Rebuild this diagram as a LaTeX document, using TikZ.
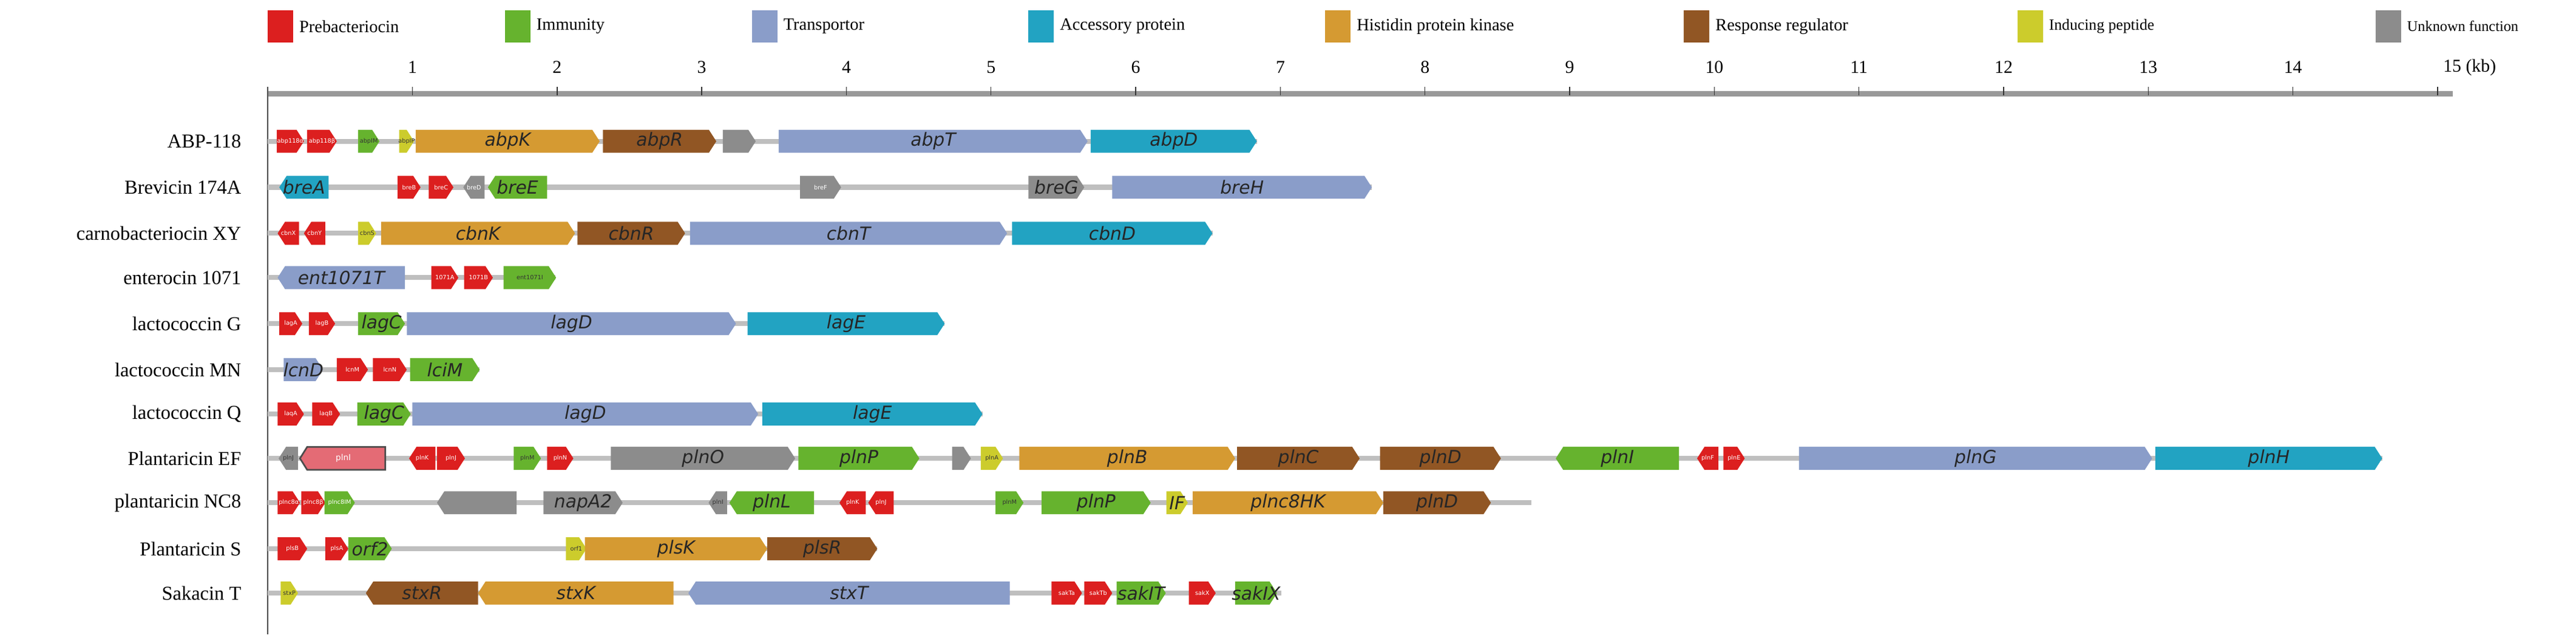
\documentclass[tikz,border=0pt]{standalone}
\usepackage{fontspec}
\setmainfont{Liberation Serif}
\newfontfamily\gfont{DejaVu Sans}
\definecolor{cPre}{HTML}{DC1F1F}
\definecolor{cImm}{HTML}{66B32E}
\definecolor{cTra}{HTML}{8A9DC9}
\definecolor{cAcc}{HTML}{22A3C2}
\definecolor{cHis}{HTML}{D59A32}
\definecolor{cRes}{HTML}{915624}
\definecolor{cInd}{HTML}{CCCC2C}
\definecolor{cUnk}{HTML}{8C8C8C}
\definecolor{cPink}{HTML}{E46B75}
\tikzset{
 big/.style={font=\gfont\itshape\fontsize{11}{11}\selectfont,text=black!85,inner sep=0},
 sm/.style={font=\gfont\fontsize{3.6}{4}\selectfont,text=white,inner sep=0},
 smk/.style={font=\gfont\fontsize{3.6}{4}\selectfont,text=black!80,inner sep=0},
 rowl/.style={font=\fontsize{12}{12}\selectfont,anchor=east,inner sep=0},
 legl/.style={font=\fontsize{10.5}{10.5}\selectfont,anchor=west,inner sep=0},
 tickl/.style={font=\fontsize{11}{11}\selectfont,inner sep=0},
 bb/.style={draw=black!25,line width=3pt},
}
% forward gene: id, x1, x2, y, colour, label, style
\newcommand\gf[7]{\fill[#5] (#2,#4-7) -- (#3-4.5,#4-7) -- (#3,#4) -- (#3-4.5,#4+7) -- (#2,#4+7) -- cycle;
 \node[#7] (#1) at ({(#2+#3)/2},#4) {#6};}
% reverse gene
\newcommand\gr[7]{\fill[#5] (#3,#4-7) -- (#2+4.5,#4-7) -- (#2,#4) -- (#2+4.5,#4+7) -- (#3,#4+7) -- cycle;
 \node[#7] (#1) at ({(#2+#3)/2},#4) {#6};}
\newcommand\rowline[4]{\coordinate (#1a) at (163,#2); \coordinate (#1b) at (#3,#2);
 \draw[bb] (#1a) -- (#1b); \node[rowl] (#1l) at (147,#2) {#4};}
\begin{document}
\begin{tikzpicture}[x=1pt,y=-1pt]
\useasboundingbox (0,0) rectangle (1568,389.8);
% legend
\foreach \i/\x/\c/\t/\fs in {1/163/cPre/Prebacteriocin/10.5, 2/307.4/cImm/Immunity/10.5, 3/457.7/cTra/Transportor/10.5, 4/626/cAcc/Accessory protein/10.5, 5/806.7/cHis/Histidin protein kinase/10.5, 6/1025/cRes/Response regulator/10.5, 7/1228/cInd/Inducing peptide/9.5, 8/1446/cUnk/Unknown function/9}{
 \fill[\c] (\x,6.3) rectangle (\x+15.5,26);
 \node[legl,font=\fontsize{\fs}{\fs}\selectfont] (leg\i) at (\x+19,16) {\t};}
% axis
\coordinate (ax0) at (163,57); \coordinate (ax1) at (1493,57);
\draw[draw=black!40,line width=3.5pt] (ax0) -- (ax1);
\coordinate (vt) at (163,53); \coordinate (vb) at (163,386);
\draw[black!70,line width=0.7pt] (vt) -- (vb);
\foreach \k in {1,...,15}{
 \draw[black!80,line width=0.5pt] (163+88.05*\k,53) -- (163+88.05*\k,58);}
\foreach \k in {1,...,14}{\node[tickl] (t\k) at (163+88.05*\k,41) {\k};}
\node[tickl,anchor=west] (t15) at (1487,41) {15 (kb)};
% ABP-118
\rowline{r1}{86}{765}{ABP-118}
\gf{a1}{168.5}{185}{86}{cPre}{abp118α}{sm}
\gf{a2}{187}{205}{86}{cPre}{abp118β}{sm}
\gf{a3}{218}{231}{86}{cImm}{abpIM}{smk}
\gf{a4}{243}{252}{86}{cInd}{abpIP}{smk}
\gf{a5}{253}{365}{86}{cHis}{abpK}{big}
\gf{a6}{367}{436}{86}{cRes}{abpR}{big}
\gf{a7}{440}{460}{86}{cUnk}{}{smk}
\gf{a8}{474}{662}{86}{cTra}{abpT}{big}
\gf{a9}{664}{765}{86}{cAcc}{abpD}{big}
% Brevicin
\rowline{r2}{114}{835}{Brevicin 174A}
\gr{b1}{170}{200}{114}{cAcc}{breA}{big}
\gf{b2}{242}{256}{114}{cPre}{breB}{sm}
\gf{b3}{261}{276}{114}{cPre}{breC}{sm}
\gr{b4}{282}{295}{114}{cUnk}{breD}{sm}
\gr{b5}{297}{333}{114}{cImm}{breE}{big}
\gf{b6}{487}{512}{114}{cUnk}{breF}{sm}
\gf{b7}{626}{660}{114}{cUnk}{breG}{big}
\gf{b8}{677}{835}{114}{cTra}{breH}{big}
% carnobacteriocin
\rowline{r3}{142}{738}{carnobacteriocin XY}
\gr{c1}{169}{182}{142}{cPre}{cbnX}{sm}
\gr{c2}{185}{198}{142}{cPre}{cbnY}{sm}
\gf{c3}{218}{229}{142}{cInd}{cbnS}{smk}
\gf{c4}{232}{350}{142}{cHis}{cbnK}{big}
\gf{c5}{351.5}{417}{142}{cRes}{cbnR}{big}
\gf{c6}{420}{613}{142}{cTra}{cbnT}{big}
\gf{c7}{616}{738}{142}{cAcc}{cbnD}{big}
% enterocin
\rowline{r4}{169}{338}{enterocin 1071}
\gr{e1}{169}{246.5}{169}{cTra}{ent1071T}{big}
\gf{e2}{262.5}{279}{169}{cPre}{1071A}{sm}
\gf{e3}{282.5}{300}{169}{cPre}{1071B}{sm}
\gf{e4}{306.5}{338.5}{169}{cImm}{ent1071I}{smk}
% lactococcin G
\rowline{r5}{197}{575}{lactococcin G}
\gf{g1}{170}{184}{197}{cPre}{lagA}{sm}
\gf{g2}{188}{204}{197}{cPre}{lagB}{sm}
\gf{g3}{218}{246.5}{197}{cImm}{lagC}{big}
\gf{g4}{247.7}{448}{197}{cTra}{lagD}{big}
\gf{g5}{455}{575}{197}{cAcc}{lagE}{big}
% lactococcin MN
\rowline{r6}{225}{292}{lactococcin MN}
\gf{m1}{172.7}{196.6}{225}{cTra}{lcnD}{big}
\gf{m2}{205}{224}{225}{cPre}{lcnM}{sm}
\gf{m3}{227}{247.6}{225}{cPre}{lcnN}{sm}
\gf{m4}{249.6}{292}{225}{cImm}{lciM}{big}
% lactococcin Q
\rowline{r7}{252}{598}{lactococcin Q}
\gf{q1}{169}{185}{252}{cPre}{laqA}{sm}
\gf{q2}{190}{207}{252}{cPre}{laqB}{sm}
\gf{q3}{217.5}{250}{252}{cImm}{lagC}{big}
\gf{q4}{251}{461.5}{252}{cTra}{lagD}{big}
\gf{q5}{464}{598}{252}{cAcc}{lagE}{big}
% Plantaricin EF
\rowline{r8}{279}{1450}{Plantaricin EF}
\gr{p1}{169.6}{181.4}{279}{cUnk}{plnJ}{smk}
\draw[fill=cPink,draw=black!70,line width=1pt] (234.5,272) -- (187,272) -- (182.6,279) -- (187,286) -- (234.5,286) -- cycle;
\node[sm,font=\gfont\fontsize{5}{5}\selectfont] (p2) at (209,279) {plnI};
\gr{p3}{249}{265}{279}{cPre}{plnK}{sm}
\gf{p4}{266}{283}{279}{cPre}{plnJ}{sm}
\gf{p5}{312.7}{329.3}{279}{cImm}{plnM}{smk}
\gf{p6}{333}{349}{279}{cPre}{plnN}{sm}
\gf{p7}{371.8}{484}{279}{cUnk}{plnO}{big}
\gf{p8}{486}{559.6}{279}{cImm}{plnP}{big}
\gf{p9}{579.5}{591}{279}{cUnk}{}{smk}
\gf{p10}{597}{610.5}{279}{cInd}{plnA}{smk}
\gf{p11}{620.5}{751.8}{279}{cHis}{plnB}{big}
\gf{p12}{753}{827.6}{279}{cRes}{plnC}{big}
\gf{p13}{840}{913.6}{279}{cRes}{plnD}{big}
\gr{p14}{947}{1022}{279}{cImm}{plnI}{big}
\gr{p15}{1033}{1046}{279}{cPre}{plnF}{sm}
\gf{p16}{1049}{1062}{279}{cPre}{plnE}{sm}
\gf{p17}{1095}{1310}{279}{cTra}{plnG}{big}
\gf{p18}{1312}{1450}{279}{cAcc}{plnH}{big}
% plantaricin NC8
\rowline{r9}{306}{932}{plantaricin NC8}
\gf{n1}{169}{182.6}{306}{cPre}{plnc8α}{sm}
\gf{n2}{183.4}{198}{306}{cPre}{plnc8β}{sm}
\gf{n3}{197.5}{216}{306}{cImm}{plnc8IM}{sm}
\gr{n4}{266}{314.5}{306}{cUnk}{}{smk}
\gf{n5}{330.8}{379}{306}{cUnk}{napA2}{big}
\gr{n6}{431.3}{442.6}{306}{cUnk}{plnI}{smk}
\gr{n7}{444}{495.5}{306}{cImm}{plnL}{big}
\gr{n8}{511}{527}{306}{cPre}{plnK}{sm}
\gr{n9}{528.5}{544}{306}{cPre}{plnJ}{sm}
\gf{n10}{606}{623}{306}{cImm}{plnM}{smk}
\gf{n11}{634}{700.4}{306}{cImm}{plnP}{big}
\gf{n12}{710}{723}{306}{cInd}{IF}{big}
\gf{n13}{726}{842}{306}{cHis}{plnc8HK}{big}
\gf{n14}{842}{907.5}{306}{cRes}{plnD}{big}
% Plantaricin S
\rowline{r10}{334}{534}{Plantaricin S}
\gf{s1}{169}{187}{334}{cPre}{plsB}{sm}
\gf{s2}{198}{212}{334}{cPre}{plsA}{sm}
\gf{s3}{212}{238.5}{334}{cImm}{orf2}{big}
\gf{s4}{344.5}{357}{334}{cInd}{orf1}{smk}
\gf{s5}{356}{467}{334}{cHis}{plsK}{big}
\gf{s6}{467}{534}{334}{cRes}{plsR}{big}
% Sakacin T
\rowline{r11}{361}{780}{Sakacin T}
\gf{k1}{170.8}{181.4}{361}{cInd}{stxP}{smk}
\gr{k2}{222.7}{291}{361}{cRes}{stxR}{big}
\gr{k3}{291}{410}{361}{cHis}{stxK}{big}
\gr{k4}{419}{614.6}{361}{cTra}{stxT}{big}
\gf{k5}{640}{658.6}{361}{cPre}{sakTa}{sm}
\gf{k6}{660}{677}{361}{cPre}{sakTb}{sm}
\gf{k7}{679.7}{709.6}{361}{cImm}{sakIT}{big}
\gf{k8}{723.6}{740}{361}{cPre}{sakX}{sm}
\gf{k9}{751.8}{777.3}{361}{cImm}{sakIX}{big}
\end{tikzpicture}
\end{document}
